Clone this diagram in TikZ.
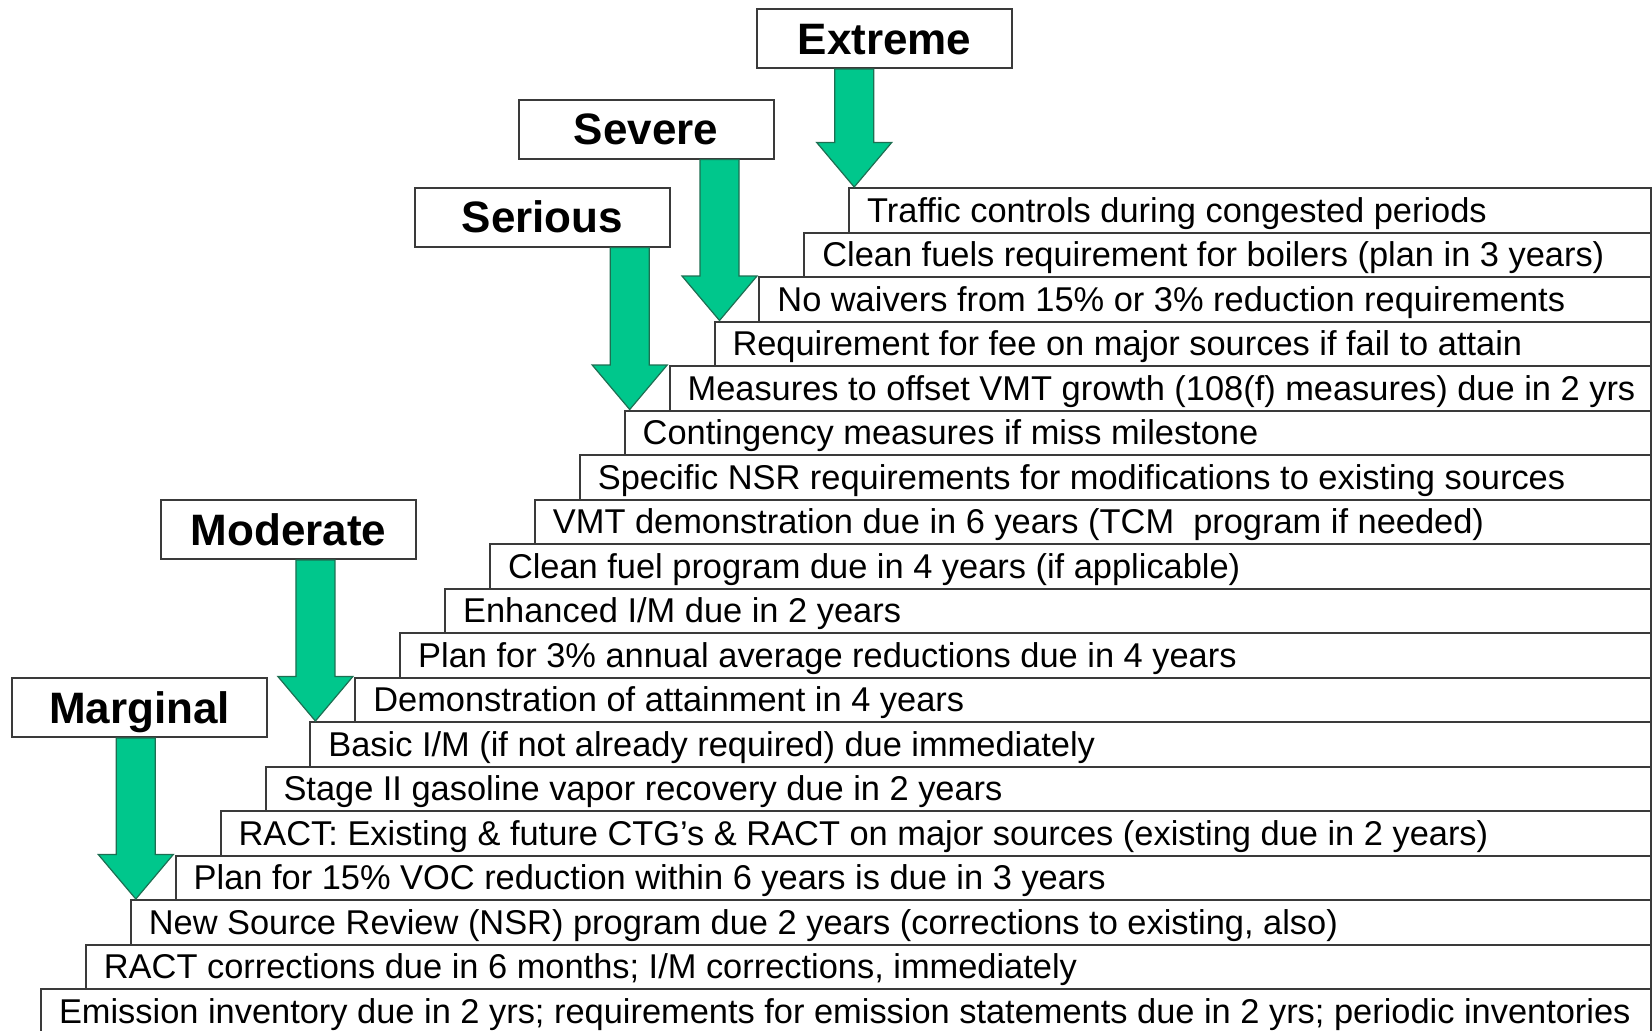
\documentclass[tikz,border=0pt]{standalone}
\usepackage{fontspec}
\setmainfont{Liberation Sans}
\usetikzlibrary{calc}
\definecolor{arrowFill}{HTML}{00C78C}
\definecolor{arrowEdge}{HTML}{1D6F52}
\definecolor{boxEdge}{HTML}{3A3A3A}

\begin{document}
\begin{tikzpicture}[x=0.5pt, y=-0.5pt, line join=miter]

\def\rowH{44.5}
\def\rowStep{44.9}
\def\rowRight{1650}
\def\shaftW{19.5}
\def\headW{37.5}
\def\headL{44.5}

\tikzset{
  rowbox/.style={draw=boxEdge, fill=white, line width=1pt, anchor=north west,
                 minimum height=22.25pt, inner xsep=9pt, inner ysep=0pt,
                 text height=13pt, text depth=0.8pt,
                 font=\fontsize{17.2}{19}\selectfont},
  levelbox/.style={draw=boxEdge, fill=white, line width=1pt,
                   minimum width=127.5pt, minimum height=29.5pt,
                   text height=17pt, text depth=1.2pt,
                   font=\fontsize{22}{24}\selectfont\bfseries},
  levelarrow/.style={fill=arrowFill, draw=arrowEdge, line width=0.6pt},
}

\useasboundingbox (0,0) rectangle (1652,1030);

% rows, bottom one first
\foreach \txt [count=\i from 0] in {
  {Emission inventory due in 2 yrs; requirements for emission statements due in 2 yrs; periodic inventories},
  {RACT corrections due in 6 months; I/M corrections, immediately},
  {New Source Review (NSR) program due 2 years (corrections to existing, also)},
  {Plan for 15\% VOC reduction within 6 years is due in 3 years},
  {RACT: Existing \& future CTG’s \& RACT on major sources (existing due in 2 years)},
  {Stage II gasoline vapor recovery due in 2 years},
  {Basic I/M (if not already required) due immediately},
  {Demonstration of attainment in 4 years},
  {Plan for 3\% annual average reductions due in 4 years},
  {Enhanced I/M due in 2 years},
  {Clean fuel program due in 4 years (if applicable)},
  {VMT demonstration due in 6 years (TCM\ \ program if needed)},
  {Specific NSR requirements for modifications to existing sources},
  {Contingency measures if miss milestone},
  {Measures to offset VMT growth (108(f) measures) due in 2 yrs},
  {Requirement for fee on major sources if fail to attain},
  {No waivers from 15\% or 3\% reduction requirements},
  {Clean fuels requirement for boilers (plan in 3 years)},
  {Traffic controls during congested periods}}
{
  \pgfmathsetmacro{\xl}{40+\rowStep*\i}
  \pgfmathsetmacro{\yt}{988-\rowH*\i}
  \pgfmathsetmacro{\tw}{(\rowRight-\xl-36)/2}
  \node[rowbox] (r\i) at (\xl,\yt) {\makebox[\tw pt][l]{\txt}};
}

% classification boxes
\node[levelbox] (marginal) at (139.5,707.5) {Marginal};
\node[levelbox] (moderate) at (288.5,529.5) {Moderate};
\node[levelbox] (serious)  at (542.5,217)   {Serious};
\node[levelbox] (severe)   at (646,129)     {Severe};
\node[levelbox] (extreme)  at (884.5,38.5)  {Extreme};

\newcommand{\levelarrow}[2]{%
  \coordinate (tip) at ($(#2.north west)+(6,0)$);
  \draw[levelarrow] ($(tip |- #1.south)+(-\shaftW,0)$)
    -- ($(tip)+(-\shaftW,-\headL)$) -- ($(tip)+(-\headW,-\headL)$) -- (tip)
    -- ($(tip)+(\headW,-\headL)$) -- ($(tip)+(\shaftW,-\headL)$)
    -- ($(tip |- #1.south)+(\shaftW,0)$) -- cycle;%
}

\levelarrow{marginal}{r2}
\levelarrow{moderate}{r6}
\levelarrow{serious}{r13}
\levelarrow{severe}{r15}
\levelarrow{extreme}{r18}

\end{tikzpicture}
\end{document}
